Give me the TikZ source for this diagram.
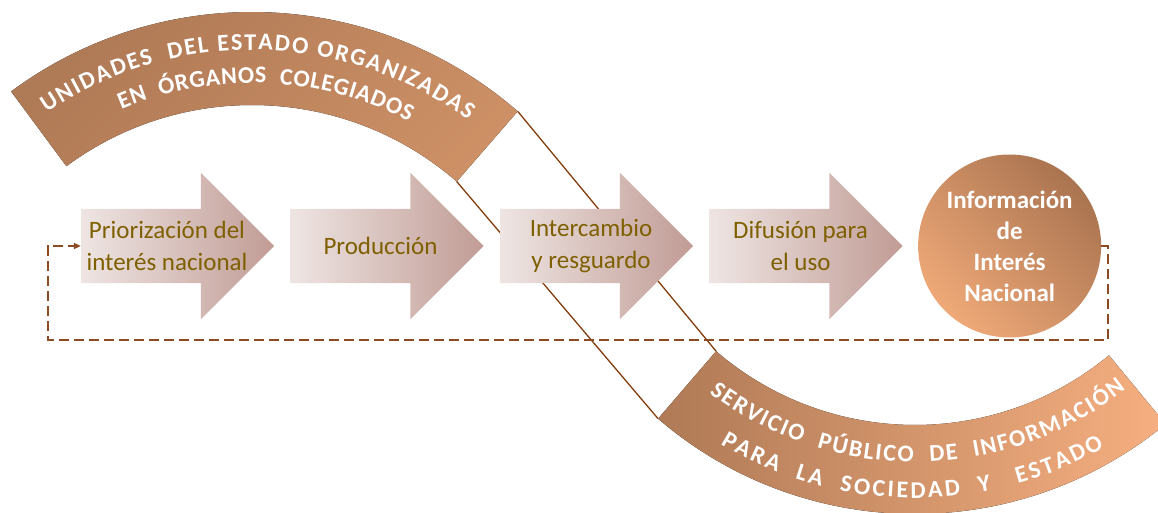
\documentclass[tikz,border=0pt]{standalone}
\usepackage{fontspec}
\setmainfont{Carlito}
\usepackage{tikz}
\usetikzlibrary{shapes.arrows,arrows.meta,positioning,decorations.text}

\definecolor{bandDark}{RGB}{175,122,86}
\definecolor{bandLight}{RGB}{216,152,107}
\definecolor{bandOrange}{RGB}{246,175,128}
\definecolor{stepLight}{RGB}{238,229,227}
\definecolor{stepDark}{RGB}{193,156,149}
\definecolor{stepText}{RGB}{127,96,0}
\definecolor{lineBrown}{RGB}{132,60,12}
\definecolor{loopBrown}{RGB}{140,75,35}
\definecolor{circLight}{RGB}{239,169,120}
\definecolor{circDark}{RGB}{170,116,80}

\newcommand\bandfont{\bfseries\fontsize{24}{24}\selectfont}

\tikzset{
  stepbox/.style={single arrow, draw=none, minimum height=193pt, inner xsep=60pt,
    inner ysep=37pt, single arrow head extend=36pt, left color=stepLight, right color=stepDark},
  steptext/.style={text=stepText, font=\fontsize{25}{32}\selectfont, align=center, inner sep=0pt},
  infobox/.style={circle, minimum size=183pt, inner sep=0pt, top color=circDark,
    bottom color=circLight, shading angle=-45, text=white,
    font=\bfseries\fontsize{25}{31}\selectfont, align=center},
  linkline/.style={draw=lineBrown, line width=1.3pt},
  loopline/.style={draw=loopBrown, line width=1.6pt, dash pattern=on 10pt off 5pt,
    -{Triangle[length=7pt,width=6pt]}},
  bandtext/.style={decorate, decoration={text along path, text align=fit to path,
    text color=white, text={|\bandfont|#1}}}
}

\begin{document}
\begin{tikzpicture}[x=1pt,y=1pt]
\useasboundingbox (0,0) rectangle (1158,512);
\clip (0,0) rectangle (1158,512);

\coordinate (topC) at (252,95);
\coordinate (botC) at (915,392);

%Corners of the bands
\path (topC) ++(49:405) coordinate (topOR);
\path (topC) ++(49:312) coordinate (topIR);
\path (botC) ++(-130.7:394) coordinate (botOL);
\path (botC) ++(-130.7:305) coordinate (botIL);

%Links
\draw[linkline] (topOR) -- (botIL);
\draw[linkline] (topIR) -- (botOL);

%Top band
\fill[left color=bandDark, right color=bandLight, shading angle=45]
  (topC) ++(126.5:405) arc[start angle=126.5, end angle=49, radius=405]
  -- (topIR) arc[start angle=49, end angle=126.5, radius=312] -- cycle;
\path[bandtext={UNIDADES{\ } DEL ESTADO ORGANIZADAS}]
  (topC) ++(124:367) arc[start angle=124, end angle=54, radius=367];
\path[bandtext={EN{\ } ÓRGANOS{\ } COLEGIADOS}]
  (topC) ++(113:334) arc[start angle=113, end angle=62, radius=334];

%Bottom band
\fill[left color=bandDark, right color=bandOrange]
  (botOL) arc[start angle=-130.7, end angle=-50.5, radius=394]
  -- ++(-50.5:-89) arc[start angle=-50.5, end angle=-130.7, radius=305] -- cycle;
\path[bandtext={SERVICIO{\ } PÚBLICO{\ } DE{\ } INFORMACIÓN}]
  (botC) ++(-127:342) arc[start angle=-127, end angle=-52, radius=342];
\path[bandtext={PARA{\ } LA{\ } SOCIEDAD{\ } Y{\ }{\ } ESTADO}]
  (botC) ++(-121:378) arc[start angle=-121, end angle=-60, radius=378];

%Steps
\node[stepbox] (prio) at (159,266) {};
\node[stepbox, right=16pt of prio] (prod) {};
\node[stepbox, right=16pt of prod] (inter) {};
\node[stepbox, right=16pt of inter] (difu) {};
\node[infobox, right=15pt of difu] (info) {Información\\de\\Interés\\Nacional};

\node[steptext] (prio-t) at ([xshift=8pt]prio.center) {Priorización del\\interés nacional};
\node[steptext] (prod-t) at ([xshift=12pt]prod.center) {Producción};
\node[steptext] (inter-t) at ([xshift=13pt]inter.center) {Intercambio\\y resguardo};
\node[steptext] (difu-t) at ([xshift=13pt]difu.center) {Difusión para\\el uso};

%Feedback loop
\coordinate (loopR) at (1108,172);
\coordinate (loopL) at (48,172);
\draw[loopline] (info.east) -| (loopR) -- (loopL) |- (prio.west);

\end{tikzpicture}
\end{document}
